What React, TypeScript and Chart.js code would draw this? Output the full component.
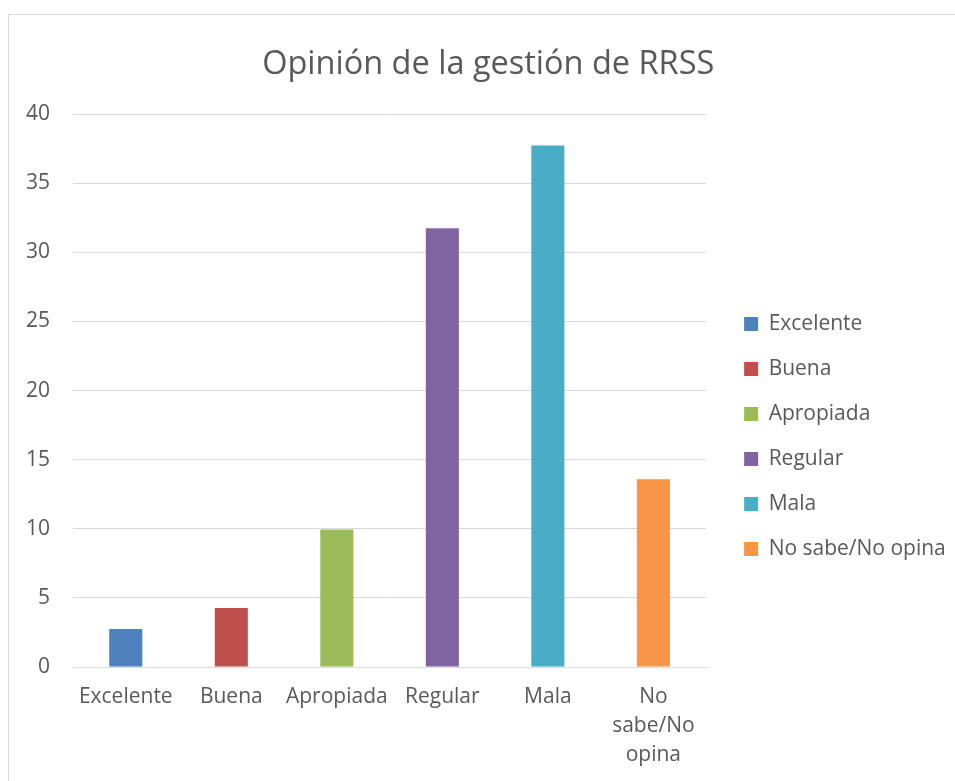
import React, { useEffect, useRef } from "react";
import { Chart, registerables } from "chart.js";

Chart.register(...registerables);

const categories = ["Excelente", "Buena", "Apropiada", "Regular", "Mala", "No sabe/No opina"];
const xTickLabels: (string | string[])[] = ["Excelente", "Buena", "Apropiada", "Regular", "Mala", ["No", "sabe/No", "opina"]];
const values = [2.75, 4.27, 9.95, 31.73, 37.72, 13.58];
const barColors = ["#4F81BD", "#C0504D", "#9BBB59", "#8064A2", "#4BACC6", "#F79646"];
const chartTitle = "Opinión de la gestión de RRSS";

const FONT = "'Open Sans', 'Noto Sans', sans-serif";
const TEXT = "#595959";
const GRID = "#d9d9d9";

const blockShift = {
  id: "blockShift",
  afterLayout(chart: any) {
    const lg = chart.legend;
    if (lg) {
      const dx = 14;
      const dy = 46;
      lg.left += dx;
      lg.right += dx;
      lg.top += dy;
      lg.bottom += dy;
    }
    const tb = chart.titleBlock;
    if (tb) {
      const tx = 16.5;
      tb.left += tx;
      tb.right += tx;
    }
  },
};

export default function App() {
  const ref = useRef<HTMLCanvasElement | null>(null);
  useEffect(() => {
    if (!ref.current) return;
    const chart = new Chart(ref.current, {
      type: "bar",
      data: {
        labels: xTickLabels as any,
        datasets: [
          {
            label: chartTitle,
            data: values,
            backgroundColor: barColors,
            borderWidth: 0,
            barPercentage: 1 / 3.19,
            categoryPercentage: 1,
          },
        ],
      },
      options: {
        responsive: false,
        animation: false,
        layout: { padding: { left: 0, right: 27.5, top: 0, bottom: 0 } },
        plugins: {
          tooltip: { enabled: false },
          title: {
            display: true,
            text: chartTitle,
            color: TEXT,
            font: { family: FONT, size: 32.5, weight: "normal" as any, lineHeight: 1.2 },
            padding: { top: 30, bottom: 30 },
          },
          legend: {
            display: true,
            position: "right",
            fullSize: false,
            align: "center",
            labels: {
              boxWidth: 14,
              boxHeight: 14,
              padding: 24,
              color: TEXT,
              font: { family: FONT, size: 21 },
              generateLabels: () =>
                categories.map((c, i) => ({
                  text: c,
                  fillStyle: barColors[i],
                  strokeStyle: barColors[i],
                  lineWidth: 0,
                  fontColor: TEXT,
                  hidden: false,
                  index: i,
                  datasetIndex: 0,
                })) as any,
            },
          },
        },
        scales: {
          x: {
            grid: { display: false, drawTicks: false },
            border: { display: true, color: GRID, width: 1 },
            ticks: {
              color: TEXT,
              font: { family: FONT, size: 21, lineHeight: 1.38 },
              padding: 15.5,
              maxRotation: 0,
              autoSkip: false,
            },
          },
          y: {
            min: 0,
            max: 40,
            grid: { color: GRID, lineWidth: 1, drawTicks: false },
            border: { display: false },
            ticks: {
              stepSize: 5,
              color: TEXT,
              font: { family: FONT, size: 21 },
              padding: 23,
            },
          },
        },
      },
      plugins: [blockShift],
    });
    return () => chart.destroy();
  }, []);

  return (
    <div
      style={{
        position: "fixed",
        left: 8,
        top: 14,
        width: 946,
        height: 766,
        borderTop: "1px solid #d9d9d9",
        borderLeft: "1px solid #d9d9d9",
        overflow: "hidden",
        background: "#fff",
      }}
    >
      <canvas ref={ref} width={965} height={770} style={{ display: "block", marginLeft: -6 }} />
    </div>
  );
}
